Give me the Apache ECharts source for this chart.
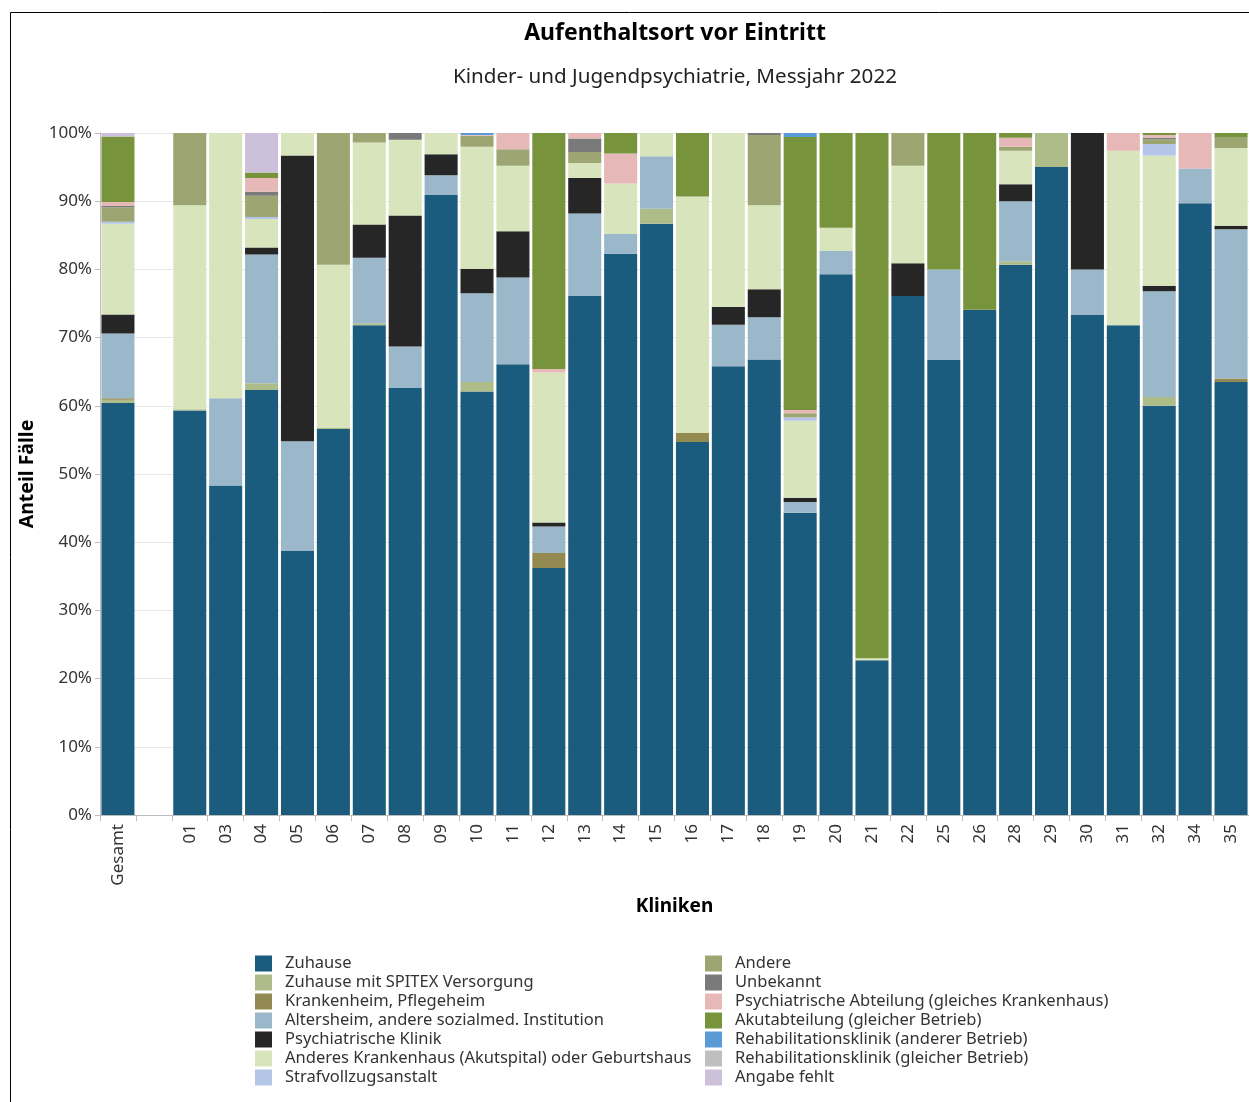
<!DOCTYPE html>
<html>
<head>
<meta charset="utf-8">
<script src="https://cdn.jsdelivr.net/npm/echarts@6/dist/echarts.min.js"></script>
<style>
  html, body { margin: 0; padding: 0; background: #fff; }
  #chart { width: 1249px; height: 1102px; }
</style>
</head>
<body>
<div id="chart"></div>
<script>
// Kategorien (Kliniken), zweite Kategorie ist eine leere Lücke
const kliniken = ['Gesamt', '', '01', '03', '04', '05', '06', '07', '08', '09', '10', '11', '12', '13', '14', '15',
  '16', '17', '18', '19', '20', '21', '22', '25', '26', '28', '29', '30', '31', '32', '34', '35'];

// Anteile in % je Aufenthaltsort (Reihenfolge wie kliniken)
const zuhause      = [60.4, null, 59.3, 48.3, 62.3, 38.7, 56.6, 71.8, 62.6, 90.9, 62.1, 66.1, 36.2, 76.1, 82.3, 86.7, 54.7, 65.8, 66.8, 44.3, 79.3, 22.7, 76.1, 66.7, 74.1, 80.7, 95.0, 73.3, 71.8, 60.0, 89.7, 63.5];
const spitex       = [0.5, null, 0.2, 0, 1.0, 0, 0.2, 0.3, 0, 0, 1.4, 0, 0, 0, 0, 2.2, 0, 0, 0, 0, 0, 0, 0, 0, 0, 0.5, 5.0, 0, 0, 1.3, 0, 0];
const krankenheim  = [0.2, null, 0, 0, 0, 0, 0, 0, 0, 0, 0, 0, 2.2, 0, 0, 0, 1.3, 0, 0, 0, 0, 0, 0, 0, 0, 0, 0, 0, 0, 0, 0, 0.5];
const altersheim   = [9.5, null, 0, 12.8, 18.9, 16.1, 0, 9.6, 6.1, 2.9, 13.0, 12.7, 3.9, 12.1, 2.9, 7.7, 0, 6.1, 6.2, 1.6, 3.4, 0, 0, 13.3, 0, 8.8, 0, 6.7, 0, 15.5, 5.1, 21.9];
const psychKlinik  = [2.8, null, 0, 0, 1.0, 41.9, 0, 4.9, 19.2, 3.1, 3.6, 6.8, 0.6, 5.2, 0, 0, 0, 2.6, 4.1, 0.6, 0, 0, 4.8, 0, 0, 2.5, 0, 20.0, 0, 0.8, 0, 0.5];
const andKrankenh  = [13.3, null, 29.9, 38.9, 4.2, 3.3, 23.9, 12.0, 11.1, 3.1, 17.9, 9.6, 22.0, 2.2, 7.4, 3.4, 34.7, 25.5, 12.3, 11.3, 3.4, 0.3, 14.3, 0, 0, 4.9, 0, 0, 25.6, 19.1, 0, 11.4];
const strafvollzug = [0.3, null, 0, 0, 0.3, 0, 0, 0, 0, 0, 0, 0, 0, 0, 0, 0, 0, 0, 0, 0.5, 0, 0, 0, 0, 0, 0, 0, 0, 0, 1.7, 0, 0];
const andere       = [2.1, null, 10.6, 0, 3.1, 0, 19.3, 1.4, 0, 0, 1.6, 2.4, 0, 1.6, 0, 0, 0, 0, 10.3, 0.6, 0, 0, 4.8, 0, 0, 0.6, 0, 0, 0, 0.7, 0, 1.6];
const unbekannt    = [0.2, null, 0, 0, 0.6, 0, 0, 0, 1.0, 0, 0, 0, 0, 2.0, 0, 0, 0, 0, 0.3, 0, 0, 0, 0, 0, 0, 0, 0, 0, 0, 0.2, 0, 0];
const psychAbt     = [0.6, null, 0, 0, 2.0, 0, 0, 0, 0, 0, 0.1, 2.4, 0.5, 0.8, 4.4, 0, 0, 0, 0, 0.5, 0, 0, 0, 0, 0, 1.3, 0, 0, 2.6, 0.4, 5.2, 0];
const akut         = [9.6, null, 0, 0, 0.8, 0, 0, 0, 0, 0, 0, 0, 34.6, 0, 3.0, 0, 9.3, 0, 0, 40.0, 13.9, 77.0, 0, 20.0, 25.9, 0.7, 0, 0, 0, 0.3, 0, 0.6];
const rehaAnderer  = [0, null, 0, 0, 0, 0, 0, 0, 0, 0, 0.3, 0, 0, 0, 0, 0, 0, 0, 0, 0.6, 0, 0, 0, 0, 0, 0, 0, 0, 0, 0, 0, 0];
const rehaGleicher = [0, null, 0, 0, 0, 0, 0, 0, 0, 0, 0, 0, 0, 0, 0, 0, 0, 0, 0, 0, 0, 0, 0, 0, 0, 0, 0, 0, 0, 0, 0, 0];
const angabeFehlt  = [0.5, null, 0, 0, 5.8, 0, 0, 0, 0, 0, 0, 0, 0, 0, 0, 0, 0, 0, 0, 0, 0, 0, 0, 0, 0, 0, 0, 0, 0, 0, 0, 0];

const gruppen = [
  { name: 'Zuhause', data: zuhause, color: '#1b5b7e' },
  { name: 'Zuhause mit SPITEX Versorgung', data: spitex, color: '#aebc8a' },
  { name: 'Krankenheim, Pflegeheim', data: krankenheim, color: '#938a52' },
  { name: 'Altersheim, andere sozialmed. Institution', data: altersheim, color: '#9ab8c9' },
  { name: 'Psychiatrische Klinik', data: psychKlinik, color: '#262626' },
  { name: 'Anderes Krankenhaus (Akutspital) oder Geburtshaus', data: andKrankenh, color: '#d8e4bc' },
  { name: 'Strafvollzugsanstalt', data: strafvollzug, color: '#b3c6e7' },
  { name: 'Andere', data: andere, color: '#9da672' },
  { name: 'Unbekannt', data: unbekannt, color: '#7a7a7a' },
  { name: 'Psychiatrische Abteilung (gleiches Krankenhaus)', data: psychAbt, color: '#e6b8b7' },
  { name: 'Akutabteilung (gleicher Betrieb)', data: akut, color: '#77933c' },
  { name: 'Rehabilitationsklinik (anderer Betrieb)', data: rehaAnderer, color: '#5b9bd5' },
  { name: 'Rehabilitationsklinik (gleicher Betrieb)', data: rehaGleicher, color: '#bfbfbf' },
  { name: 'Angabe fehlt', data: angabeFehlt, color: '#ccc0da' }
];

const font = 'Noto Sans';
const chart = echarts.init(document.getElementById('chart'), null, { renderer: 'canvas' });

const legendBase = {
  orient: 'vertical',
  top: 950,
  icon: 'rect',
  itemWidth: 17,
  itemHeight: 16,
  itemGap: 2,
  selectedMode: false,
  textStyle: { fontFamily: font, fontSize: 16.5, color: '#333', lineHeight: 16, padding: [0, 0, 0, 8] }
};

const option = {
  animation: false,
  textStyle: { fontFamily: font },
  graphic: [
    { type: 'line', shape: { x1: 10.5, y1: 12.5, x2: 1249, y2: 12.5 }, style: { stroke: '#000', lineWidth: 1 } },
    { type: 'line', shape: { x1: 10.5, y1: 12.5, x2: 10.5, y2: 1102 }, style: { stroke: '#000', lineWidth: 1 } },
    { type: 'text', x: 675, y: 33, style: { text: 'Aufenthaltsort vor Eintritt', font: 'bold 23px "Noto Sans"', fill: '#000', align: 'center', verticalAlign: 'middle' } },
    { type: 'text', x: 675, y: 77, style: { text: 'Kinder- und Jugendpsychiatrie, Messjahr 2022', font: '20.6px "Noto Sans"', fill: '#222', align: 'center', verticalAlign: 'middle' } }
  ],
  legend: [
    Object.assign({}, legendBase, { left: 250, data: gruppen.slice(0, 7).map(g => g.name) }),
    Object.assign({}, legendBase, { left: 700, data: gruppen.slice(7).map(g => g.name) })
  ],
  grid: { left: 100, right: 0, top: 133, bottom: 287 },
  xAxis: {
    type: 'category',
    data: kliniken,
    name: 'Kliniken',
    nameLocation: 'middle',
    nameGap: 82,
    nameTextStyle: { fontFamily: font, fontSize: 19, fontWeight: 'bold', color: '#000' },
    axisLine: { lineStyle: { color: '#bdbdbd' } },
    axisTick: { show: true, length: 6, lineStyle: { color: '#bdbdbd' } },
    axisLabel: { rotate: 90, fontSize: 17, color: '#333', margin: 9, interval: 0 }
  },
  yAxis: {
    type: 'value',
    min: 0,
    max: 100,
    interval: 10,
    name: 'Anteil Fälle',
    nameLocation: 'middle',
    nameGap: 60,
    nameRotate: 90,
    nameTextStyle: { fontFamily: font, fontSize: 19.5, fontWeight: 'bold', color: '#000' },
    axisLine: { show: true, lineStyle: { color: '#bdbdbd' } },
    axisTick: { show: true, length: 5, lineStyle: { color: '#bdbdbd' } },
    axisLabel: { formatter: '{value}%', fontSize: 17, color: '#333', margin: 8 },
    splitLine: { lineStyle: { color: '#e8e8e8' } }
  },
  series: gruppen.map(g => ({
    name: g.name,
    type: 'bar',
    stack: 'total',
    data: g.data,
    barCategoryGap: '8%',
    itemStyle: { color: g.color, borderWidth: 0 },
    emphasis: { disabled: true }
  }))
};

chart.setOption(option);
</script>
</body>
</html>
